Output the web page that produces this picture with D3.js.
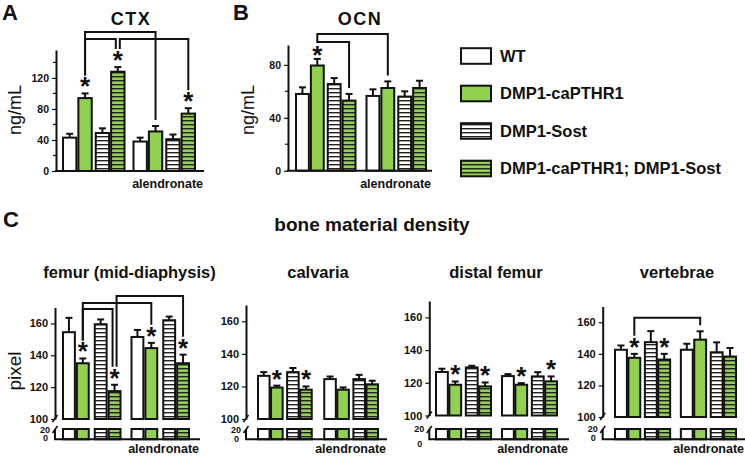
<!DOCTYPE html>
<html><head><meta charset="utf-8">
<script src="https://cdn.jsdelivr.net/npm/d3@7"></script>
<style>
body{margin:0;background:#fff}
svg{display:block}
text{font-family:'Liberation Sans',Arial,Helvetica,sans-serif;fill:#111}
</style>
</head><body>
<svg id="chart" width="745" height="456"></svg>
<script>
// ---------------- data ----------------
const groups = ["vehicle", "alendronate"];
const pairs = ["WT pair", "Sost pair"];
const members = ["base", "caPTHR1"];
const genotypes = ["WT", "DMP1-caPTHR1", "DMP1-Sost", "DMP1-caPTHR1; DMP1-Sost"];

const ctxMean = [43, 94, 49, 128, 38, 51, 41, 74];
const ctxErr  = [5, 6, 6, 6, 5, 7, 6, 7];
const ctxStar = [0, 1, 0, 1, 0, 0, 0, 1];

const ocnMean = [58, 79.5, 65.5, 53, 56.5, 62.5, 56, 62.5];
const ocnErr  = [5, 5, 4.5, 5, 5, 5, 4, 5.5];
const ocnStar = [0, 1, 0, 0, 0, 0, 0, 0];

const femurMean = [154.5, 135, 159.5, 117.5, 151.5, 144.5, 162, 135];
const femurErr  = [9, 3, 3, 4, 4.4, 3.3, 2.3, 5.4];
const femurStar = [0, 1, 0, 1, 0, 1, 0, 1];

const calvMean = [126.5, 119.3, 128.8, 118, 124.5, 118, 124.5, 121.3];
const calvErr  = [2.3, 1.2, 2.5, 2, 1.6, 1.4, 2.6, 2.2];
const calvStar = [0, 1, 0, 1, 0, 0, 0, 0];

const distMean = [126.6, 118.8, 129.4, 117.8, 124.1, 118.8, 123.9, 120.9];
const distErr  = [2, 2, 1, 2.4, 1.2, 1, 2.6, 3];
const distStar = [0, 1, 0, 1, 0, 1, 0, 1];

const vertMean = [142.6, 137.5, 147.4, 136.4, 142.6, 149, 141, 138.3];
const vertErr  = [2.7, 2.5, 7, 3.6, 3.8, 5.3, 6.3, 5.4];
const vertStar = [0, 1, 0, 1, 0, 0, 0, 0];

// brackets: [fromBar, toBar, tier]
const ctxBrackets = [[1, 5, 0], [1, 3, 1], [3, 7, 1]];
const ocnBrackets = [[1, 5, 0], [1, 3, 1]];
const femurBrackets = [[3, 7, 0], [1, 5, 1], [1, 3, 2]];
const vertBrackets = [[1, 5, 0]];

const ctxTicks = [0, 40, 80, 120];
const ctxMinor = [20, 60, 100, 140];
const ocnTicks = [0, 40, 80];
const ocnMinor = [20, 60];
const bmdTicks = [100, 120, 140, 160];
const bmdLowTicks = ["20", "0"];

// ---------------- styles ----------------
const GREEN = "#92d050";
const INK = "#111";
const FONT = "'Liberation Sans',Arial,Helvetica,sans-serif";

const svg = d3.select("#chart");
const defs = svg.append("defs");
function stripes(id, bg) {
  const p = defs.append("pattern").attr("id", id)
    .attr("patternUnits", "userSpaceOnUse").attr("width", 8).attr("height", 4);
  p.append("rect").attr("width", 8).attr("height", 4).attr("fill", bg);
  p.append("rect").attr("y", 0).attr("width", 8).attr("height", 1.4).attr("fill", "#222");
}
stripes("sW", "#fff");
stripes("sG", GREEN);
const fills = ["#fff", GREEN, "url(#sW)", "url(#sG)"];

function band(domain, r0, r1, gap) {
  const n = domain.length, step = (r1 - r0 + gap) / n;
  return d3.scaleBand().domain(domain).range([r0, r1]).paddingInner(gap / step).paddingOuter(0);
}
function makeX(left, right, gg, pg, bg) {
  const outer = band(groups, left, right, gg);
  return function (i) {
    const g = groups[Math.floor(i / 4)];
    const o0 = outer(g);
    const inner = band(pairs, o0, o0 + outer.bandwidth(), pg);
    const p = pairs[Math.floor((i % 4) / 2)];
    const i0 = inner(p);
    const mem = band(members, i0, i0 + inner.bandwidth(), bg);
    return { x: mem(members[i % 2]), w: mem.bandwidth() };
  };
}

function drawPanel(cfg) {
  const g = svg.append("g");
  const y = d3.scaleLinear().domain(cfg.domain).range(cfg.range);
  const xb = makeX(cfg.left, cfg.right, cfg.gg, cfg.pg, cfg.bg);
  const base = cfg.range[0];
  const n = cfg.mean.length;
  const idx = d3.range(n);

  // bars
  idx.forEach(i => {
    const b = xb(i);
    g.append("rect").attr("x", b.x).attr("y", y(cfg.mean[i]))
      .attr("width", b.w).attr("height", base - y(cfg.mean[i]))
      .attr("fill", fills[i % 4]).attr("stroke", INK).attr("stroke-width", 2);
    if (cfg.low) {
      g.append("rect").attr("x", b.x).attr("y", cfg.low[0])
        .attr("width", b.w).attr("height", cfg.low[1] - cfg.low[0])
        .attr("fill", fills[i % 4]).attr("stroke", INK).attr("stroke-width", 2);
    }
    // error bar
    const cx = b.x + b.w / 2, yt = y(cfg.mean[i] + cfg.err[i]);
    g.append("line").attr("x1", cx).attr("x2", cx).attr("y1", y(cfg.mean[i])).attr("y2", yt)
      .attr("stroke", INK).attr("stroke-width", 2);
    g.append("line").attr("x1", cx - 3.5).attr("x2", cx + 3.5).attr("y1", yt).attr("y2", yt)
      .attr("stroke", INK).attr("stroke-width", 2);
    if (cfg.star[i]) {
      g.append("text").attr("x", cx).attr("y", yt - cfg.starGap + 13)
        .attr("text-anchor", "middle").attr("font-size", 26).attr("font-weight", "bold").text("*");
    }
  });

  // brackets
  if (cfg.brackets) {
    const br = cfg.brackets;
    const legEnd = i => y(cfg.mean[i] + cfg.err[i]) - (cfg.star[i] ? 18 : 6);
    const cxOf = i => { const b = xb(i); return b.x + b.w / 2; };
    br.forEach(([a, b, t]) => {
      const xa = cxOf(a) + (br.some(o => o[1] === a) ? 2 : 0);
      const xbb = cxOf(b) - (br.some(o => o[0] === b) ? 2 : 0);
      const ty = cfg.tiers[t];
      g.append("path").attr("d", `M${xa},${legEnd(a)}V${ty}H${xbb}V${legEnd(b)}`)
        .attr("fill", "none").attr("stroke", INK).attr("stroke-width", 2);
    });
  }

  // y axis
  const ax = g.append("g").attr("transform", `translate(${cfg.axisX},0)`)
    .call(d3.axisLeft(y).tickValues(cfg.ticks).tickSize(4).tickSizeOuter(0).tickPadding(3)
      .tickFormat(d3.format("d")));
  ax.select(".domain").attr("stroke", INK).attr("stroke-width", 2);
  ax.selectAll(".tick line").attr("stroke", INK).attr("stroke-width", 1.2);
  ax.selectAll(".tick text").attr("font-family", FONT).attr("font-size", cfg.tickFont)
    .attr("font-weight", "bold").attr("fill", INK);
  if (cfg.minor) {
    cfg.minor.forEach(v => g.append("line").attr("x1", cfg.axisX - 3).attr("x2", cfg.axisX)
      .attr("y1", y(v)).attr("y2", y(v)).attr("stroke", INK).attr("stroke-width", 1.2));
  }

  // x axis
  const xAxisY = cfg.low ? cfg.low[1] : base;
  g.append("line").attr("x1", cfg.axisX - 1).attr("x2", cfg.axisEnd)
    .attr("y1", xAxisY).attr("y2", xAxisY).attr("stroke", INK).attr("stroke-width", 2);

  // broken axis (lower segment)
  if (cfg.low) {
    const X = cfg.axisX;
    g.append("line").attr("x1", X).attr("x2", X).attr("y1", cfg.low[0]).attr("y2", cfg.low[1])
      .attr("stroke", INK).attr("stroke-width", 2);
    g.append("line").attr("x1", X - 2.5).attr("x2", X + 2.5).attr("y1", base + 3).attr("y2", base - 4)
      .attr("stroke", INK).attr("stroke-width", 1.6);
    g.append("line").attr("x1", X - 2.5).attr("x2", X + 2.5).attr("y1", cfg.low[0] + 4).attr("y2", cfg.low[0] - 3)
      .attr("stroke", INK).attr("stroke-width", 1.6);
    g.append("text").attr("x", X - 5).attr("y", cfg.lowLabelY[0]).attr("dy", "0.35em")
      .attr("text-anchor", "end").attr("font-size", 9).attr("font-weight", "bold").text(bmdLowTicks[0]);
    g.append("text").attr("x", X - 7).attr("y", cfg.lowLabelY[1]).attr("dy", "0.35em")
      .attr("text-anchor", "end").attr("font-size", 9).attr("font-weight", "bold").text(bmdLowTicks[1]);
  }

  // title
  g.append("text").attr("x", cfg.titleX).attr("y", cfg.titleY).attr("text-anchor", "middle")
    .attr("font-size", cfg.titleSize).attr("font-weight", "bold")
    .attr("letter-spacing", cfg.titleSpacing || 0).text(cfg.title);
  // alendronate
  g.append("text").attr("x", cfg.axisEnd - 1).attr("y", cfg.alenY).attr("text-anchor", "end")
    .attr("font-size", 12.5).attr("font-weight", "bold").text("alendronate");
  // y label
  if (cfg.ylabel) {
    g.append("text").attr("transform", `translate(${cfg.ylabelX},${cfg.ylabelY}) rotate(-90)`)
      .attr("text-anchor", "middle").attr("dy", "0.35em")
      .attr("font-size", cfg.ylabelSize).text(cfg.ylabel);
  }
}

// Panel A
drawPanel({ mean: ctxMean, err: ctxErr, star: ctxStar, brackets: ctxBrackets, tiers: [32, 39],
  domain: [0, 156], range: [171, 50], ticks: ctxTicks, minor: ctxMinor, tickFont: 10.5,
  axisX: 56, axisEnd: 204, left: 63, right: 195, gg: 9, pg: 4, bg: 2, starGap: 11,
  title: "CTX", titleX: 131, titleY: 25, titleSize: 18, titleSpacing: 1.5,
  alenY: 188, ylabel: "ng/mL", ylabelX: 15, ylabelY: 110, ylabelSize: 18 });

// Panel B
drawPanel({ mean: ocnMean, err: ocnErr, star: ocnStar, brackets: ocnBrackets, tiers: [34, 42],
  domain: [0, 95], range: [170.7, 45], ticks: ocnTicks, minor: ocnMinor, tickFont: 10.5,
  axisX: 288, axisEnd: 432, left: 296, right: 426, gg: 11, pg: 4, bg: 2, starGap: 8,
  title: "OCN", titleX: 360, titleY: 25, titleSize: 18, titleSpacing: 1.5,
  alenY: 188, ylabel: "ng/mL", ylabelX: 248, ylabelY: 110, ylabelSize: 18 });

// Panel C
const cCommon = { ticks: bmdTicks, tickFont: 11, domain: [100, 170], low: [429, 439.3],
  titleY: 277.5, titleSize: 16.5, alenY: 452.5, starGap: 11 };
drawPanel(Object.assign({}, cCommon, { mean: femurMean, err: femurErr, star: femurStar,
  brackets: femurBrackets, tiers: [296, 303, 309], range: [419, 307.5],
  axisX: 55, axisEnd: 200, left: 63, right: 189, gg: 11, pg: 6, bg: 2, lowLabelY: [429.5, 438],
  title: "femur (mid-diaphysis)", titleX: 129.5,
  ylabel: "pixel", ylabelX: 14, ylabelY: 371, ylabelSize: 19 }));
drawPanel(Object.assign({}, cCommon, { mean: calvMean, err: calvErr, star: calvStar,
  range: [419, 305], axisX: 246, axisEnd: 387, left: 258, right: 378, gg: 12.5, pg: 4.5, bg: 1.5,
  lowLabelY: [429.5, 439], title: "calvaria", titleX: 318 }));
drawPanel(Object.assign({}, cCommon, { mean: distMean, err: distErr, star: distStar,
  range: [415.5, 301], axisX: 429.3, axisEnd: 569, left: 436, right: 557, gg: 11, pg: 4.7, bg: 1.5,
  lowLabelY: [428.5, 444], title: "distal femur", titleX: 496 }));
drawPanel(Object.assign({}, cCommon, { mean: vertMean, err: vertErr, star: vertStar,
  brackets: vertBrackets, tiers: [317.7], range: [417, 306.5],
  axisX: 602.7, axisEnd: 745, left: 615, right: 736, gg: 10.7, pg: 4.6, bg: 1.5,
  lowLabelY: [428.5, 438], title: "vertebrae", titleX: 677 }));

// panel letters & section title
[["A", 2, 20], ["B", 233, 20], ["C", 3, 227]].forEach(([t, x, yy]) =>
  svg.append("text").attr("x", x).attr("y", yy).attr("font-size", 22).attr("font-weight", "bold").text(t));
svg.append("text").attr("x", 372).attr("y", 231).attr("text-anchor", "middle")
  .attr("font-size", 19).attr("font-weight", "bold").text("bone material density");

// legend
const legY = [56, 93.5, 131, 168.5];
const leg = svg.append("g");
genotypes.forEach((name, i) => {
  leg.append("rect").attr("x", 461).attr("y", legY[i] - 7.8).attr("width", 30).attr("height", 15.6)
    .attr("fill", fills[i]).attr("stroke", INK).attr("stroke-width", 2);
  leg.append("text").attr("x", 500).attr("y", legY[i]).attr("dy", "0.36em")
    .attr("font-size", 16.5).attr("font-weight", "bold").text(name);
});
</script>
</body></html>
